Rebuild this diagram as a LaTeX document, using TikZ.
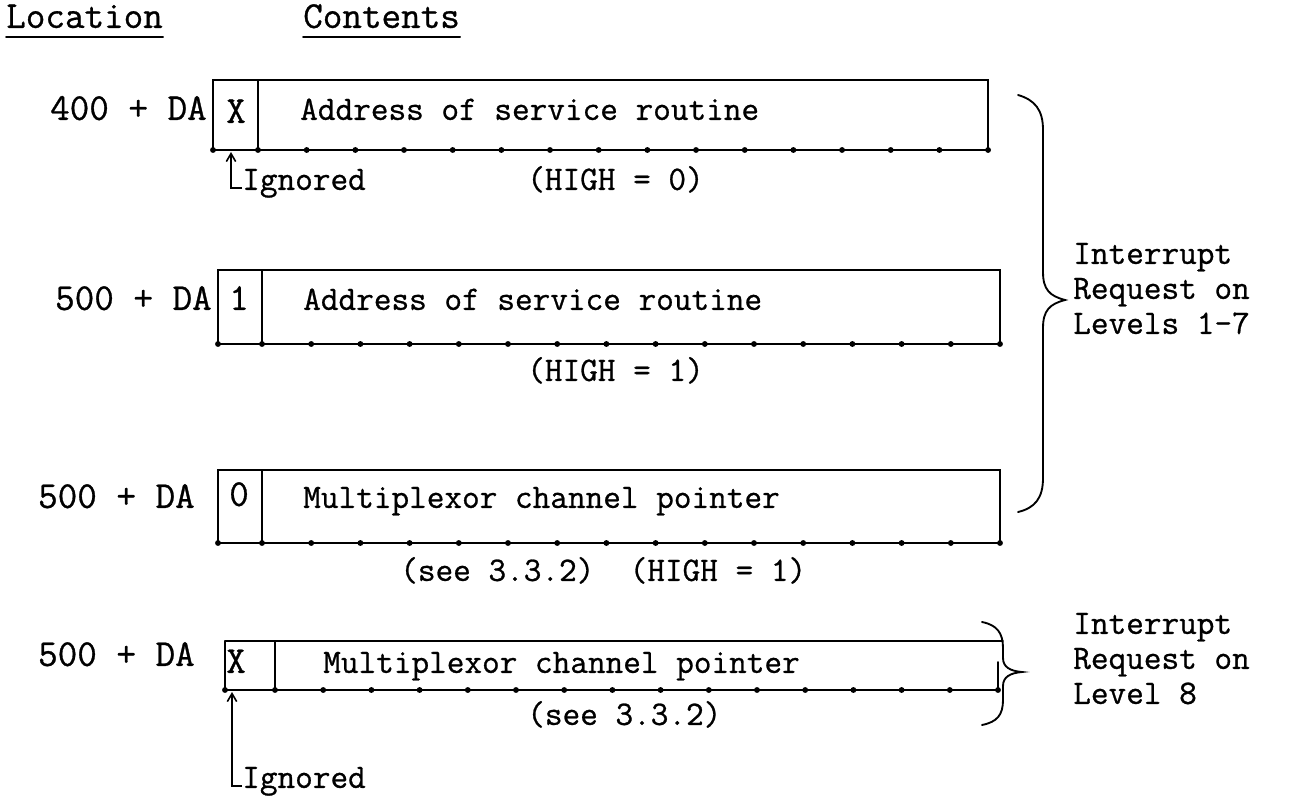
\documentclass[tikz,border=0pt]{standalone}
\usepackage{fontspec}
\newfontfamily\typew{Latin Modern Mono}[FakeBold=0.8]
\usetikzlibrary{arrows.meta}
\begin{document}
\begin{tikzpicture}[x=0.75pt,y=-0.75pt,
  tt/.style={font=\fontsize{25.7}{30}\selectfont\typew, inner sep=0pt, anchor=mid west},
  lab/.style={font=\fontsize{28.5}{31}\selectfont\typew, inner sep=0pt, anchor=mid west},
  labr/.style={lab, anchor=mid east},
  frame/.style={line width=1.3pt, line cap=round},
  bitdot/.style={fill=black},
  bracepath/.style={line width=1.4pt, line cap=round},
  note/.style={line width=1.2pt, -{Straight Barb[length=6pt,width=7pt]}}]
\useasboundingbox (0,0) rectangle (1301,805);

% headers
\node[lab] (loc) at (6,25) {Location};
\node[lab] (con) at (303,25) {Contents};
\draw[frame] ([shift={(0,9)}]loc.base west) -- ([shift={(0,9)}]loc.base east);
\draw[frame] ([shift={(0,9)}]con.base west) -- ([shift={(0,9)}]con.base east);

% ---------- box 1 ----------
\draw[frame] (213,80) rectangle (988,150);
\draw[frame] (258,80) -- (258,150);
\fill[bitdot] (213,150) circle (2.2pt);
\foreach \i in {0,...,15} \fill[bitdot] ({258+\i*48.67},150) circle (2.2pt);
\node[labr] (l1) at (207,117) {400 + DA};
\node[lab] (b1) at (226,120) {X};
\node[tt] (t1) at (300,117) {Address of service routine};
\coordinate (ig1top) at (231,152);
\node[tt] (ig1) at (242,187) {Ignored};
\draw[note] ([shift={(0,-2)}]ig1.base west) -| (ig1top);
\node[tt] (h1) at (527,187) {(HIGH = 0)};

% ---------- box 2 ----------
\draw[frame] (218,270) rectangle (1000,344);
\draw[frame] (262,270) -- (262,344);
\fill[bitdot] (218,344) circle (2.2pt);
\foreach \i in {0,...,15} \fill[bitdot] ({262+\i*49.2},344) circle (2.2pt);
\node[labr] (l2) at (212,307) {500 + DA};
\node[lab] (b2) at (229,307) {1};
\node[tt] (t2) at (303,307) {Address of service routine};
\node[tt] (h2) at (527,378) {(HIGH = 1)};

% ---------- box 3 ----------
\draw[frame] (218,470) rectangle (1000,543);
\draw[frame] (262,470) -- (262,543);
\fill[bitdot] (218,543) circle (2.2pt);
\foreach \i in {0,...,15} \fill[bitdot] ({262+\i*49.2},543) circle (2.2pt);
\node[labr] (l3) at (195,505) {500 + DA};
\node[lab] (b3) at (229,503) {0};
\node[tt] (t3) at (303,505) {Multiplexor channel pointer};
\node[tt] (h3) at (400,578) {(see 3.3.2)\ \ (HIGH = 1)};

% brace for levels 1-7
\draw[bracepath] (1018,95) .. controls (1035,100) and (1043,110) .. (1043,130)
  -- (1043,272) .. controls (1043,290) and (1050,296) .. (1065,300)
  .. controls (1050,304) and (1043,310) .. (1043,328)
  -- (1043,478) .. controls (1043,498) and (1035,508) .. (1018,512);
\node[tt] (r1a) at (1073,261) {Interrupt};
\node[tt] (r1b) at (1073,296) {Request on};
\node[tt] (r1c) at (1073,331) {Levels 1-7};

% ---------- box 4 ----------
\draw[frame] (225,641) -- (1003,641);
\draw[frame] (225,641) -- (225,690) -- (998,690) -- (998,662);
\draw[frame] (275,641) -- (275,690);
\fill[bitdot] (225,690) circle (2.2pt);
\foreach \i in {0,...,15} \fill[bitdot] ({275+\i*48.2},690) circle (2.2pt);
\node[labr] (l4) at (195,663) {500 + DA};
\node[lab] (b4) at (226,670) {X};
\node[tt] (t4) at (323,670) {Multiplexor channel pointer};
\node[tt] (h4) at (527,722) {(see 3.3.2)};
\coordinate (ig2top) at (232,692);
\node[tt] (ig2) at (242,785) {Ignored};
\draw[note] ([shift={(0,-2)}]ig2.base west) -| (ig2top);

% brace for level 8
\draw[bracepath] (982,622) .. controls (997,625) and (1003,633) .. (1003,648)
  -- (1003,658) .. controls (1003,667) and (1010,671) .. (1022,672)
  .. controls (1010,673) and (1003,677) .. (1003,686)
  -- (1003,700) .. controls (1003,715) and (997,722) .. (982,725);
\node[tt] (r2a) at (1073,631) {Interrupt};
\node[tt] (r2b) at (1073,666) {Request on};
\node[tt] (r2c) at (1073,701) {Level 8};
\end{tikzpicture}
\end{document}
